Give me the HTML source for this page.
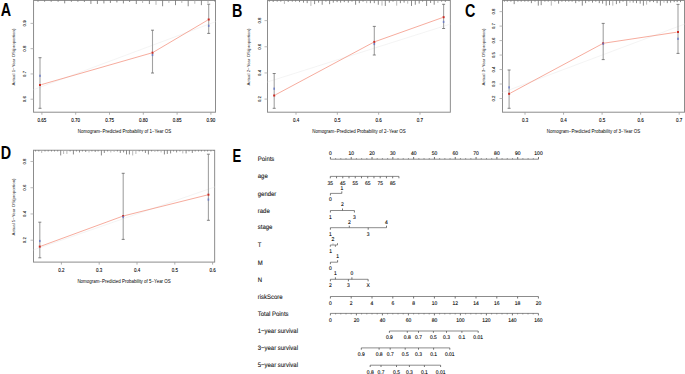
<!DOCTYPE html>
<html><head><meta charset="utf-8"><style>
html,body{margin:0;padding:0;background:#fff;}
svg{display:block;font-family:"Liberation Sans", sans-serif;}
text.nt,text.lab{text-rendering:geometricPrecision;}
text{stroke:none;}
text.nt{stroke:#000;stroke-width:0.1px;}
text.ct{stroke:#000;stroke-width:0.08px;}
text.lab{stroke:#111;stroke-width:0.1px;}
text.L{stroke:none;}
</style></head><body>
<svg width="685" height="374" viewBox="0 0 685 374">
<rect width="685" height="374" fill="#fff"/>
<rect x="33.55" y="0.45" width="181.95" height="111.75" fill="none" stroke="#8c8c8c" stroke-width="1.0"/>
<line x1="41.90" y1="112.20" x2="41.90" y2="114.70" stroke="#999" stroke-width="0.8" />
<text transform="translate(41.90 121.90)" font-size="4.5" text-anchor="middle" fill="#000" class="ct">0.65</text>
<line x1="75.70" y1="112.20" x2="75.70" y2="114.70" stroke="#999" stroke-width="0.8" />
<text transform="translate(75.70 121.90)" font-size="4.5" text-anchor="middle" fill="#000" class="ct">0.70</text>
<line x1="109.50" y1="112.20" x2="109.50" y2="114.70" stroke="#999" stroke-width="0.8" />
<text transform="translate(109.50 121.90)" font-size="4.5" text-anchor="middle" fill="#000" class="ct">0.75</text>
<line x1="143.30" y1="112.20" x2="143.30" y2="114.70" stroke="#999" stroke-width="0.8" />
<text transform="translate(143.30 121.90)" font-size="4.5" text-anchor="middle" fill="#000" class="ct">0.80</text>
<line x1="177.10" y1="112.20" x2="177.10" y2="114.70" stroke="#999" stroke-width="0.8" />
<text transform="translate(177.10 121.90)" font-size="4.5" text-anchor="middle" fill="#000" class="ct">0.85</text>
<line x1="210.90" y1="112.20" x2="210.90" y2="114.70" stroke="#999" stroke-width="0.8" />
<text transform="translate(210.90 121.90)" font-size="4.5" text-anchor="middle" fill="#000" class="ct">0.90</text>
<line x1="30.55" y1="99.21" x2="33.55" y2="99.21" stroke="#aaa" stroke-width="0.8" />
<text transform="translate(26.45 99.21) rotate(-90)" font-size="4.3" text-anchor="middle" fill="#000" class="ct">0.6</text>
<line x1="30.55" y1="73.94" x2="33.55" y2="73.94" stroke="#aaa" stroke-width="0.8" />
<text transform="translate(26.45 73.94) rotate(-90)" font-size="4.3" text-anchor="middle" fill="#000" class="ct">0.7</text>
<line x1="30.55" y1="48.67" x2="33.55" y2="48.67" stroke="#aaa" stroke-width="0.8" />
<text transform="translate(26.45 48.67) rotate(-90)" font-size="4.3" text-anchor="middle" fill="#000" class="ct">0.8</text>
<line x1="30.55" y1="23.40" x2="33.55" y2="23.40" stroke="#aaa" stroke-width="0.8" />
<text transform="translate(26.45 23.40) rotate(-90)" font-size="4.3" text-anchor="middle" fill="#000" class="ct">0.9</text>
<text transform="translate(124.53 133.00)" font-size="4.47" text-anchor="middle" fill="#000">Nomogram−Predicted Probability of 1−Year OS</text>
<text transform="translate(15.11 57.12) rotate(-90)" font-size="4.35" text-anchor="middle" fill="#333" class="yt">Actual 1−Year OS(proportion)</text>
<line x1="33.55" y1="89.70" x2="215.50" y2="21.68" stroke="#ececec" stroke-width="0.6" />
<line x1="38.00" y1="0.45" x2="38.00" y2="1.75" stroke="#6c6c6c" stroke-width="0.8" />
<line x1="44.60" y1="0.45" x2="44.60" y2="1.75" stroke="#6c6c6c" stroke-width="0.8" />
<line x1="51.20" y1="0.45" x2="51.20" y2="1.75" stroke="#6c6c6c" stroke-width="0.8" />
<line x1="58.10" y1="0.45" x2="58.10" y2="1.75" stroke="#6c6c6c" stroke-width="0.8" />
<line x1="64.70" y1="0.45" x2="64.70" y2="3.35" stroke="#6c6c6c" stroke-width="0.8" />
<line x1="71.40" y1="0.45" x2="71.40" y2="1.75" stroke="#6c6c6c" stroke-width="0.8" />
<line x1="77.90" y1="0.45" x2="77.90" y2="1.75" stroke="#6c6c6c" stroke-width="0.8" />
<line x1="84.40" y1="0.45" x2="84.40" y2="1.95" stroke="#6c6c6c" stroke-width="0.8" />
<line x1="90.90" y1="0.45" x2="90.90" y2="3.95" stroke="#6c6c6c" stroke-width="0.8" />
<line x1="97.40" y1="0.45" x2="97.40" y2="3.95" stroke="#6c6c6c" stroke-width="0.8" />
<line x1="103.90" y1="0.45" x2="103.90" y2="3.45" stroke="#6c6c6c" stroke-width="0.8" />
<line x1="110.40" y1="0.45" x2="110.40" y2="2.95" stroke="#6c6c6c" stroke-width="0.8" />
<line x1="116.90" y1="0.45" x2="116.90" y2="2.45" stroke="#6c6c6c" stroke-width="0.8" />
<line x1="123.40" y1="0.45" x2="123.40" y2="3.45" stroke="#6c6c6c" stroke-width="0.8" />
<line x1="129.60" y1="0.45" x2="129.60" y2="1.95" stroke="#6c6c6c" stroke-width="0.8" />
<line x1="136.30" y1="0.45" x2="136.30" y2="4.05" stroke="#6c6c6c" stroke-width="0.8" />
<line x1="142.60" y1="0.45" x2="142.60" y2="2.95" stroke="#a4a4a4" stroke-width="0.8" />
<line x1="149.40" y1="0.45" x2="149.40" y2="4.05" stroke="#6c6c6c" stroke-width="0.8" />
<line x1="156.00" y1="0.45" x2="156.00" y2="4.85" stroke="#a4a4a4" stroke-width="0.8" />
<line x1="162.60" y1="0.45" x2="162.60" y2="6.25" stroke="#6c6c6c" stroke-width="0.8" />
<line x1="168.90" y1="0.45" x2="168.90" y2="2.95" stroke="#a4a4a4" stroke-width="0.8" />
<line x1="175.50" y1="0.45" x2="175.50" y2="5.15" stroke="#6c6c6c" stroke-width="0.8" />
<line x1="181.80" y1="0.45" x2="181.80" y2="2.95" stroke="#a4a4a4" stroke-width="0.8" />
<line x1="188.20" y1="0.45" x2="188.20" y2="6.25" stroke="#6c6c6c" stroke-width="0.8" />
<line x1="194.80" y1="0.45" x2="194.80" y2="3.75" stroke="#a4a4a4" stroke-width="0.8" />
<line x1="201.40" y1="0.45" x2="201.40" y2="5.15" stroke="#6c6c6c" stroke-width="0.8" />
<line x1="208.00" y1="0.45" x2="208.00" y2="2.95" stroke="#a4a4a4" stroke-width="0.8" />
<line x1="214.50" y1="0.45" x2="214.50" y2="1.45" stroke="#6c6c6c" stroke-width="0.8" />
<line x1="41.35" y1="84.61" x2="151.15" y2="53.09" stroke="#f3907e" stroke-width="0.75" />
<line x1="153.71" y1="51.99" x2="207.49" y2="20.21" stroke="#f3907e" stroke-width="0.75" />
<line x1="40.00" y1="57.70" x2="40.00" y2="108.30" stroke="#a2a2a2" stroke-width="1.1" />
<line x1="38.50" y1="57.70" x2="41.50" y2="57.70" stroke="#666" stroke-width="0.8" />
<line x1="38.50" y1="108.30" x2="41.50" y2="108.30" stroke="#666" stroke-width="0.8" />
<rect x="39.00" y="84.00" width="2" height="2" fill="#cc2a22"/>
<rect x="39.20" y="74.70" width="1.6" height="2.2" fill="#6577c6" fill-opacity="0.85"/>
<line x1="152.50" y1="30.20" x2="152.50" y2="73.00" stroke="#a2a2a2" stroke-width="1.1" />
<line x1="151.00" y1="30.20" x2="154.00" y2="30.20" stroke="#666" stroke-width="0.8" />
<line x1="151.00" y1="73.00" x2="154.00" y2="73.00" stroke="#666" stroke-width="0.8" />
<rect x="151.50" y="51.70" width="2" height="2" fill="#cc2a22"/>
<rect x="151.70" y="53.90" width="1.6" height="2.2" fill="#6577c6" fill-opacity="0.85"/>
<line x1="208.70" y1="4.20" x2="208.70" y2="33.40" stroke="#a2a2a2" stroke-width="1.1" />
<line x1="207.20" y1="4.20" x2="210.20" y2="4.20" stroke="#666" stroke-width="0.8" />
<line x1="207.20" y1="33.40" x2="210.20" y2="33.40" stroke="#666" stroke-width="0.8" />
<rect x="207.70" y="18.50" width="2" height="2" fill="#cc2a22"/>
<rect x="207.90" y="24.70" width="1.6" height="2.2" fill="#6577c6" fill-opacity="0.85"/>
<text transform="translate(0.80 16.30) scale(0.82 1)" font-size="17.5" font-weight="bold" fill="#000" class="L">A</text>
<rect x="267.50" y="0.45" width="182.85" height="111.75" fill="none" stroke="#8c8c8c" stroke-width="1.0"/>
<line x1="296.00" y1="112.20" x2="296.00" y2="114.70" stroke="#999" stroke-width="0.8" />
<text transform="translate(296.00 121.90)" font-size="4.5" text-anchor="middle" fill="#000" class="ct">0.4</text>
<line x1="337.33" y1="112.20" x2="337.33" y2="114.70" stroke="#999" stroke-width="0.8" />
<text transform="translate(337.33 121.90)" font-size="4.5" text-anchor="middle" fill="#000" class="ct">0.5</text>
<line x1="378.66" y1="112.20" x2="378.66" y2="114.70" stroke="#999" stroke-width="0.8" />
<text transform="translate(378.66 121.90)" font-size="4.5" text-anchor="middle" fill="#000" class="ct">0.6</text>
<line x1="419.99" y1="112.20" x2="419.99" y2="114.70" stroke="#999" stroke-width="0.8" />
<text transform="translate(419.99 121.90)" font-size="4.5" text-anchor="middle" fill="#000" class="ct">0.7</text>
<line x1="264.50" y1="99.10" x2="267.50" y2="99.10" stroke="#aaa" stroke-width="0.8" />
<text transform="translate(261.15 99.10) rotate(-90)" font-size="4.3" text-anchor="middle" fill="#000" class="ct">0.2</text>
<line x1="264.50" y1="72.94" x2="267.50" y2="72.94" stroke="#aaa" stroke-width="0.8" />
<text transform="translate(261.15 72.94) rotate(-90)" font-size="4.3" text-anchor="middle" fill="#000" class="ct">0.4</text>
<line x1="264.50" y1="46.78" x2="267.50" y2="46.78" stroke="#aaa" stroke-width="0.8" />
<text transform="translate(261.15 46.78) rotate(-90)" font-size="4.3" text-anchor="middle" fill="#000" class="ct">0.6</text>
<line x1="264.50" y1="20.62" x2="267.50" y2="20.62" stroke="#aaa" stroke-width="0.8" />
<text transform="translate(261.15 20.62) rotate(-90)" font-size="4.3" text-anchor="middle" fill="#000" class="ct">0.8</text>
<text transform="translate(358.93 133.00)" font-size="4.47" text-anchor="middle" fill="#000">Nomogram−Predicted Probability of 2−Year OS</text>
<text transform="translate(249.71 57.12) rotate(-90)" font-size="4.35" text-anchor="middle" fill="#333" class="yt">Actual 2−Year OS(proportion)</text>
<line x1="267.50" y1="81.96" x2="450.35" y2="24.09" stroke="#ececec" stroke-width="0.6" />
<line x1="269.30" y1="0.45" x2="269.30" y2="1.65" stroke="#6c6c6c" stroke-width="0.8" />
<line x1="273.20" y1="0.45" x2="273.20" y2="1.95" stroke="#6c6c6c" stroke-width="0.8" />
<line x1="277.20" y1="0.45" x2="277.20" y2="1.65" stroke="#6c6c6c" stroke-width="0.8" />
<line x1="280.80" y1="0.45" x2="280.80" y2="1.65" stroke="#6c6c6c" stroke-width="0.8" />
<line x1="284.40" y1="0.45" x2="284.40" y2="3.95" stroke="#a4a4a4" stroke-width="0.8" />
<line x1="288.20" y1="0.45" x2="288.20" y2="1.95" stroke="#6c6c6c" stroke-width="0.8" />
<line x1="292.30" y1="0.45" x2="292.30" y2="1.65" stroke="#6c6c6c" stroke-width="0.8" />
<line x1="295.60" y1="0.45" x2="295.60" y2="1.65" stroke="#6c6c6c" stroke-width="0.8" />
<line x1="299.50" y1="0.45" x2="299.50" y2="2.15" stroke="#6c6c6c" stroke-width="0.8" />
<line x1="303.50" y1="0.45" x2="303.50" y2="2.65" stroke="#6c6c6c" stroke-width="0.8" />
<line x1="307.20" y1="0.45" x2="307.20" y2="3.15" stroke="#6c6c6c" stroke-width="0.8" />
<line x1="310.90" y1="0.45" x2="310.90" y2="5.95" stroke="#a4a4a4" stroke-width="0.8" />
<line x1="314.60" y1="0.45" x2="314.60" y2="4.15" stroke="#6c6c6c" stroke-width="0.8" />
<line x1="318.60" y1="0.45" x2="318.60" y2="2.65" stroke="#6c6c6c" stroke-width="0.8" />
<line x1="322.20" y1="0.45" x2="322.20" y2="4.75" stroke="#6c6c6c" stroke-width="0.8" />
<line x1="325.90" y1="0.45" x2="325.90" y2="1.65" stroke="#6c6c6c" stroke-width="0.8" />
<line x1="329.60" y1="0.45" x2="329.60" y2="4.15" stroke="#6c6c6c" stroke-width="0.8" />
<line x1="333.30" y1="0.45" x2="333.30" y2="2.65" stroke="#6c6c6c" stroke-width="0.8" />
<line x1="337.10" y1="0.45" x2="337.10" y2="2.15" stroke="#6c6c6c" stroke-width="0.8" />
<line x1="340.60" y1="0.45" x2="340.60" y2="2.65" stroke="#6c6c6c" stroke-width="0.8" />
<line x1="344.30" y1="0.45" x2="344.30" y2="2.15" stroke="#6c6c6c" stroke-width="0.8" />
<line x1="348.30" y1="0.45" x2="348.30" y2="2.65" stroke="#6c6c6c" stroke-width="0.8" />
<line x1="352.00" y1="0.45" x2="352.00" y2="1.65" stroke="#6c6c6c" stroke-width="0.8" />
<line x1="355.60" y1="0.45" x2="355.60" y2="4.75" stroke="#6c6c6c" stroke-width="0.8" />
<line x1="359.30" y1="0.45" x2="359.30" y2="3.15" stroke="#6c6c6c" stroke-width="0.8" />
<line x1="363.00" y1="0.45" x2="363.00" y2="1.65" stroke="#6c6c6c" stroke-width="0.8" />
<line x1="366.70" y1="0.45" x2="366.70" y2="3.15" stroke="#a4a4a4" stroke-width="0.8" />
<line x1="370.40" y1="0.45" x2="370.40" y2="3.15" stroke="#6c6c6c" stroke-width="0.8" />
<line x1="374.30" y1="0.45" x2="374.30" y2="3.15" stroke="#6c6c6c" stroke-width="0.8" />
<line x1="378.30" y1="0.45" x2="378.30" y2="4.75" stroke="#6c6c6c" stroke-width="0.8" />
<line x1="382.00" y1="0.45" x2="382.00" y2="5.65" stroke="#a4a4a4" stroke-width="0.8" />
<line x1="385.30" y1="0.45" x2="385.30" y2="5.95" stroke="#6c6c6c" stroke-width="0.8" />
<line x1="389.30" y1="0.45" x2="389.30" y2="2.65" stroke="#6c6c6c" stroke-width="0.8" />
<line x1="393.00" y1="0.45" x2="393.00" y2="1.65" stroke="#6c6c6c" stroke-width="0.8" />
<line x1="396.70" y1="0.45" x2="396.70" y2="5.65" stroke="#a4a4a4" stroke-width="0.8" />
<line x1="400.40" y1="0.45" x2="400.40" y2="3.15" stroke="#6c6c6c" stroke-width="0.8" />
<line x1="404.10" y1="0.45" x2="404.10" y2="2.65" stroke="#6c6c6c" stroke-width="0.8" />
<line x1="407.70" y1="0.45" x2="407.70" y2="3.65" stroke="#a4a4a4" stroke-width="0.8" />
<line x1="411.50" y1="0.45" x2="411.50" y2="5.95" stroke="#6c6c6c" stroke-width="0.8" />
<line x1="415.30" y1="0.45" x2="415.30" y2="4.75" stroke="#6c6c6c" stroke-width="0.8" />
<line x1="419.20" y1="0.45" x2="419.20" y2="3.55" stroke="#6c6c6c" stroke-width="0.8" />
<line x1="422.60" y1="0.45" x2="422.60" y2="1.65" stroke="#6c6c6c" stroke-width="0.8" />
<line x1="426.60" y1="0.45" x2="426.60" y2="5.95" stroke="#6c6c6c" stroke-width="0.8" />
<line x1="430.60" y1="0.45" x2="430.60" y2="2.95" stroke="#6c6c6c" stroke-width="0.8" />
<line x1="434.20" y1="0.45" x2="434.20" y2="4.75" stroke="#6c6c6c" stroke-width="0.8" />
<line x1="437.90" y1="0.45" x2="437.90" y2="2.95" stroke="#a4a4a4" stroke-width="0.8" />
<line x1="441.60" y1="0.45" x2="441.60" y2="1.65" stroke="#6c6c6c" stroke-width="0.8" />
<line x1="445.30" y1="0.45" x2="445.30" y2="1.95" stroke="#6c6c6c" stroke-width="0.8" />
<line x1="449.00" y1="0.45" x2="449.00" y2="1.05" stroke="#6c6c6c" stroke-width="0.8" />
<line x1="275.43" y1="94.84" x2="373.07" y2="42.56" stroke="#f3907e" stroke-width="0.75" />
<line x1="375.62" y1="41.43" x2="442.28" y2="17.67" stroke="#f3907e" stroke-width="0.75" />
<line x1="274.20" y1="73.50" x2="274.20" y2="108.30" stroke="#a2a2a2" stroke-width="1.1" />
<line x1="272.70" y1="73.50" x2="275.70" y2="73.50" stroke="#666" stroke-width="0.8" />
<line x1="272.70" y1="108.30" x2="275.70" y2="108.30" stroke="#666" stroke-width="0.8" />
<rect x="273.20" y="94.50" width="2" height="2" fill="#cc2a22"/>
<rect x="273.40" y="87.60" width="1.6" height="2.2" fill="#6577c6" fill-opacity="0.85"/>
<line x1="374.30" y1="26.40" x2="374.30" y2="55.00" stroke="#a2a2a2" stroke-width="1.1" />
<line x1="372.80" y1="26.40" x2="375.80" y2="26.40" stroke="#666" stroke-width="0.8" />
<line x1="372.80" y1="55.00" x2="375.80" y2="55.00" stroke="#666" stroke-width="0.8" />
<rect x="373.30" y="40.90" width="2" height="2" fill="#cc2a22"/>
<rect x="373.50" y="42.90" width="1.6" height="2.2" fill="#6577c6" fill-opacity="0.85"/>
<line x1="443.60" y1="4.30" x2="443.60" y2="28.50" stroke="#a2a2a2" stroke-width="1.1" />
<line x1="442.10" y1="4.30" x2="445.10" y2="4.30" stroke="#666" stroke-width="0.8" />
<line x1="442.10" y1="28.50" x2="445.10" y2="28.50" stroke="#666" stroke-width="0.8" />
<rect x="442.60" y="16.20" width="2" height="2" fill="#cc2a22"/>
<rect x="442.80" y="20.80" width="1.6" height="2.2" fill="#6577c6" fill-opacity="0.85"/>
<text transform="translate(232.00 16.50) scale(0.82 1)" font-size="17.5" font-weight="bold" fill="#000" class="L">B</text>
<rect x="502.50" y="0.45" width="182.00" height="111.75" fill="none" stroke="#8c8c8c" stroke-width="1.0"/>
<line x1="525.00" y1="112.20" x2="525.00" y2="114.70" stroke="#999" stroke-width="0.8" />
<text transform="translate(525.00 121.90)" font-size="4.5" text-anchor="middle" fill="#000" class="ct">0.3</text>
<line x1="563.55" y1="112.20" x2="563.55" y2="114.70" stroke="#999" stroke-width="0.8" />
<text transform="translate(563.55 121.90)" font-size="4.5" text-anchor="middle" fill="#000" class="ct">0.4</text>
<line x1="602.10" y1="112.20" x2="602.10" y2="114.70" stroke="#999" stroke-width="0.8" />
<text transform="translate(602.10 121.90)" font-size="4.5" text-anchor="middle" fill="#000" class="ct">0.5</text>
<line x1="640.65" y1="112.20" x2="640.65" y2="114.70" stroke="#999" stroke-width="0.8" />
<text transform="translate(640.65 121.90)" font-size="4.5" text-anchor="middle" fill="#000" class="ct">0.6</text>
<line x1="679.20" y1="112.20" x2="679.20" y2="114.70" stroke="#999" stroke-width="0.8" />
<text transform="translate(679.20 121.90)" font-size="4.5" text-anchor="middle" fill="#000" class="ct">0.7</text>
<line x1="499.50" y1="98.50" x2="502.50" y2="98.50" stroke="#aaa" stroke-width="0.8" />
<text transform="translate(495.35 98.50) rotate(-90)" font-size="4.3" text-anchor="middle" fill="#000" class="ct">0.2</text>
<line x1="499.50" y1="84.02" x2="502.50" y2="84.02" stroke="#aaa" stroke-width="0.8" />
<text transform="translate(495.35 84.02) rotate(-90)" font-size="4.3" text-anchor="middle" fill="#000" class="ct">0.3</text>
<line x1="499.50" y1="69.54" x2="502.50" y2="69.54" stroke="#aaa" stroke-width="0.8" />
<text transform="translate(495.35 69.54) rotate(-90)" font-size="4.3" text-anchor="middle" fill="#000" class="ct">0.4</text>
<line x1="499.50" y1="55.06" x2="502.50" y2="55.06" stroke="#aaa" stroke-width="0.8" />
<text transform="translate(495.35 55.06) rotate(-90)" font-size="4.3" text-anchor="middle" fill="#000" class="ct">0.5</text>
<line x1="499.50" y1="40.58" x2="502.50" y2="40.58" stroke="#aaa" stroke-width="0.8" />
<text transform="translate(495.35 40.58) rotate(-90)" font-size="4.3" text-anchor="middle" fill="#000" class="ct">0.6</text>
<line x1="499.50" y1="26.10" x2="502.50" y2="26.10" stroke="#aaa" stroke-width="0.8" />
<text transform="translate(495.35 26.10) rotate(-90)" font-size="4.3" text-anchor="middle" fill="#000" class="ct">0.7</text>
<line x1="499.50" y1="11.62" x2="502.50" y2="11.62" stroke="#aaa" stroke-width="0.8" />
<text transform="translate(495.35 11.62) rotate(-90)" font-size="4.3" text-anchor="middle" fill="#000" class="ct">0.8</text>
<text transform="translate(593.50 133.00)" font-size="4.47" text-anchor="middle" fill="#000">Nomogram−Predicted Probability of 3−Year OS</text>
<text transform="translate(484.81 57.12) rotate(-90)" font-size="4.35" text-anchor="middle" fill="#333" class="yt">Actual 3−Year OS(proportion)</text>
<line x1="502.50" y1="92.47" x2="684.50" y2="24.11" stroke="#ececec" stroke-width="0.6" />
<line x1="504.40" y1="0.45" x2="504.40" y2="1.65" stroke="#6c6c6c" stroke-width="0.8" />
<line x1="507.30" y1="0.45" x2="507.30" y2="1.65" stroke="#6c6c6c" stroke-width="0.8" />
<line x1="510.90" y1="0.45" x2="510.90" y2="1.65" stroke="#6c6c6c" stroke-width="0.8" />
<line x1="514.20" y1="0.45" x2="514.20" y2="4.15" stroke="#6c6c6c" stroke-width="0.8" />
<line x1="517.90" y1="0.45" x2="517.90" y2="1.65" stroke="#6c6c6c" stroke-width="0.8" />
<line x1="521.20" y1="0.45" x2="521.20" y2="1.65" stroke="#6c6c6c" stroke-width="0.8" />
<line x1="524.80" y1="0.45" x2="524.80" y2="1.65" stroke="#6c6c6c" stroke-width="0.8" />
<line x1="528.10" y1="0.45" x2="528.10" y2="1.65" stroke="#6c6c6c" stroke-width="0.8" />
<line x1="531.40" y1="0.45" x2="531.40" y2="3.15" stroke="#6c6c6c" stroke-width="0.8" />
<line x1="535.00" y1="0.45" x2="535.00" y2="1.65" stroke="#6c6c6c" stroke-width="0.8" />
<line x1="538.30" y1="0.45" x2="538.30" y2="5.65" stroke="#6c6c6c" stroke-width="0.8" />
<line x1="541.20" y1="0.45" x2="541.20" y2="5.15" stroke="#6c6c6c" stroke-width="0.8" />
<line x1="544.90" y1="0.45" x2="544.90" y2="1.65" stroke="#6c6c6c" stroke-width="0.8" />
<line x1="548.20" y1="0.45" x2="548.20" y2="1.65" stroke="#6c6c6c" stroke-width="0.8" />
<line x1="551.30" y1="0.45" x2="551.30" y2="5.65" stroke="#a4a4a4" stroke-width="0.8" />
<line x1="554.90" y1="0.45" x2="554.90" y2="1.65" stroke="#6c6c6c" stroke-width="0.8" />
<line x1="558.60" y1="0.45" x2="558.60" y2="3.65" stroke="#6c6c6c" stroke-width="0.8" />
<line x1="561.90" y1="0.45" x2="561.90" y2="1.65" stroke="#6c6c6c" stroke-width="0.8" />
<line x1="565.50" y1="0.45" x2="565.50" y2="1.65" stroke="#6c6c6c" stroke-width="0.8" />
<line x1="568.80" y1="0.45" x2="568.80" y2="1.65" stroke="#6c6c6c" stroke-width="0.8" />
<line x1="572.10" y1="0.45" x2="572.10" y2="1.65" stroke="#6c6c6c" stroke-width="0.8" />
<line x1="575.70" y1="0.45" x2="575.70" y2="3.15" stroke="#6c6c6c" stroke-width="0.8" />
<line x1="579.00" y1="0.45" x2="579.00" y2="1.65" stroke="#6c6c6c" stroke-width="0.8" />
<line x1="582.30" y1="0.45" x2="582.30" y2="5.65" stroke="#6c6c6c" stroke-width="0.8" />
<line x1="585.60" y1="0.45" x2="585.60" y2="3.15" stroke="#6c6c6c" stroke-width="0.8" />
<line x1="588.90" y1="0.45" x2="588.90" y2="1.65" stroke="#6c6c6c" stroke-width="0.8" />
<line x1="592.50" y1="0.45" x2="592.50" y2="2.65" stroke="#6c6c6c" stroke-width="0.8" />
<line x1="595.80" y1="0.45" x2="595.80" y2="1.65" stroke="#6c6c6c" stroke-width="0.8" />
<line x1="599.30" y1="0.45" x2="599.30" y2="3.15" stroke="#6c6c6c" stroke-width="0.8" />
<line x1="602.60" y1="0.45" x2="602.60" y2="3.65" stroke="#6c6c6c" stroke-width="0.8" />
<line x1="606.20" y1="0.45" x2="606.20" y2="5.65" stroke="#6c6c6c" stroke-width="0.8" />
<line x1="609.50" y1="0.45" x2="609.50" y2="5.15" stroke="#6c6c6c" stroke-width="0.8" />
<line x1="612.80" y1="0.45" x2="612.80" y2="5.65" stroke="#a4a4a4" stroke-width="0.8" />
<line x1="616.40" y1="0.45" x2="616.40" y2="4.15" stroke="#6c6c6c" stroke-width="0.8" />
<line x1="619.70" y1="0.45" x2="619.70" y2="3.15" stroke="#6c6c6c" stroke-width="0.8" />
<line x1="623.00" y1="0.45" x2="623.00" y2="1.65" stroke="#6c6c6c" stroke-width="0.8" />
<line x1="626.70" y1="0.45" x2="626.70" y2="5.95" stroke="#6c6c6c" stroke-width="0.8" />
<line x1="630.00" y1="0.45" x2="630.00" y2="2.65" stroke="#a4a4a4" stroke-width="0.8" />
<line x1="633.20" y1="0.45" x2="633.20" y2="2.65" stroke="#6c6c6c" stroke-width="0.8" />
<line x1="636.50" y1="0.45" x2="636.50" y2="3.15" stroke="#6c6c6c" stroke-width="0.8" />
<line x1="640.20" y1="0.45" x2="640.20" y2="3.65" stroke="#6c6c6c" stroke-width="0.8" />
<line x1="643.40" y1="0.45" x2="643.40" y2="5.65" stroke="#6c6c6c" stroke-width="0.8" />
<line x1="646.60" y1="0.45" x2="646.60" y2="4.65" stroke="#a4a4a4" stroke-width="0.8" />
<line x1="649.90" y1="0.45" x2="649.90" y2="2.15" stroke="#6c6c6c" stroke-width="0.8" />
<line x1="653.50" y1="0.45" x2="653.50" y2="2.15" stroke="#6c6c6c" stroke-width="0.8" />
<line x1="657.10" y1="0.45" x2="657.10" y2="3.15" stroke="#6c6c6c" stroke-width="0.8" />
<line x1="660.40" y1="0.45" x2="660.40" y2="5.65" stroke="#6c6c6c" stroke-width="0.8" />
<line x1="664.00" y1="0.45" x2="664.00" y2="2.65" stroke="#a4a4a4" stroke-width="0.8" />
<line x1="667.30" y1="0.45" x2="667.30" y2="3.15" stroke="#6c6c6c" stroke-width="0.8" />
<line x1="670.60" y1="0.45" x2="670.60" y2="2.65" stroke="#6c6c6c" stroke-width="0.8" />
<line x1="674.20" y1="0.45" x2="674.20" y2="2.15" stroke="#6c6c6c" stroke-width="0.8" />
<line x1="677.20" y1="0.45" x2="677.20" y2="2.15" stroke="#6c6c6c" stroke-width="0.8" />
<line x1="680.50" y1="0.45" x2="680.50" y2="2.15" stroke="#6c6c6c" stroke-width="0.8" />
<line x1="510.33" y1="93.14" x2="601.97" y2="43.96" stroke="#f3907e" stroke-width="0.75" />
<line x1="604.58" y1="43.09" x2="676.62" y2="32.21" stroke="#f3907e" stroke-width="0.75" />
<line x1="509.10" y1="70.00" x2="509.10" y2="108.30" stroke="#a2a2a2" stroke-width="1.1" />
<line x1="507.60" y1="70.00" x2="510.60" y2="70.00" stroke="#666" stroke-width="0.8" />
<line x1="507.60" y1="108.30" x2="510.60" y2="108.30" stroke="#666" stroke-width="0.8" />
<rect x="508.10" y="92.80" width="2" height="2" fill="#cc2a22"/>
<rect x="508.30" y="86.30" width="1.6" height="2.2" fill="#6577c6" fill-opacity="0.85"/>
<line x1="603.20" y1="23.40" x2="603.20" y2="59.60" stroke="#a2a2a2" stroke-width="1.1" />
<line x1="601.70" y1="23.40" x2="604.70" y2="23.40" stroke="#666" stroke-width="0.8" />
<line x1="601.70" y1="59.60" x2="604.70" y2="59.60" stroke="#666" stroke-width="0.8" />
<rect x="602.20" y="42.30" width="2" height="2" fill="#cc2a22"/>
<rect x="602.40" y="42.70" width="1.6" height="2.2" fill="#6577c6" fill-opacity="0.85"/>
<line x1="678.00" y1="4.40" x2="678.00" y2="53.40" stroke="#a2a2a2" stroke-width="1.1" />
<line x1="676.50" y1="4.40" x2="679.50" y2="4.40" stroke="#666" stroke-width="0.8" />
<line x1="676.50" y1="53.40" x2="679.50" y2="53.40" stroke="#666" stroke-width="0.8" />
<rect x="677.00" y="31.00" width="2" height="2" fill="#cc2a22"/>
<rect x="677.20" y="37.70" width="1.6" height="2.2" fill="#6577c6" fill-opacity="0.85"/>
<text transform="translate(465.00 16.80) scale(0.82 1)" font-size="17.5" font-weight="bold" fill="#000" class="L">C</text>
<rect x="33.50" y="150.25" width="181.15" height="111.85" fill="none" stroke="#8c8c8c" stroke-width="1.0"/>
<line x1="61.40" y1="262.10" x2="61.40" y2="264.60" stroke="#999" stroke-width="0.8" />
<text transform="translate(61.40 271.70)" font-size="4.5" text-anchor="middle" fill="#000" class="ct">0.2</text>
<line x1="99.20" y1="262.10" x2="99.20" y2="264.60" stroke="#999" stroke-width="0.8" />
<text transform="translate(99.20 271.70)" font-size="4.5" text-anchor="middle" fill="#000" class="ct">0.3</text>
<line x1="137.00" y1="262.10" x2="137.00" y2="264.60" stroke="#999" stroke-width="0.8" />
<text transform="translate(137.00 271.70)" font-size="4.5" text-anchor="middle" fill="#000" class="ct">0.4</text>
<line x1="174.80" y1="262.10" x2="174.80" y2="264.60" stroke="#999" stroke-width="0.8" />
<text transform="translate(174.80 271.70)" font-size="4.5" text-anchor="middle" fill="#000" class="ct">0.5</text>
<line x1="212.60" y1="262.10" x2="212.60" y2="264.60" stroke="#999" stroke-width="0.8" />
<text transform="translate(212.60 271.70)" font-size="4.5" text-anchor="middle" fill="#000" class="ct">0.6</text>
<line x1="30.50" y1="240.20" x2="33.50" y2="240.20" stroke="#aaa" stroke-width="0.8" />
<text transform="translate(26.45 240.20) rotate(-90)" font-size="4.3" text-anchor="middle" fill="#000" class="ct">0.2</text>
<line x1="30.50" y1="213.96" x2="33.50" y2="213.96" stroke="#aaa" stroke-width="0.8" />
<text transform="translate(26.45 213.96) rotate(-90)" font-size="4.3" text-anchor="middle" fill="#000" class="ct">0.4</text>
<line x1="30.50" y1="187.72" x2="33.50" y2="187.72" stroke="#aaa" stroke-width="0.8" />
<text transform="translate(26.45 187.72) rotate(-90)" font-size="4.3" text-anchor="middle" fill="#000" class="ct">0.6</text>
<line x1="30.50" y1="161.48" x2="33.50" y2="161.48" stroke="#aaa" stroke-width="0.8" />
<text transform="translate(26.45 161.48) rotate(-90)" font-size="4.3" text-anchor="middle" fill="#000" class="ct">0.8</text>
<text transform="translate(124.08 282.80)" font-size="4.47" text-anchor="middle" fill="#000">Nomogram−Predicted Probability of 5−Year OS</text>
<text transform="translate(15.11 206.98) rotate(-90)" font-size="4.35" text-anchor="middle" fill="#333" class="yt">Actual 5−Year OS(proportion)</text>
<line x1="33.50" y1="249.88" x2="214.65" y2="187.01" stroke="#ececec" stroke-width="0.6" />
<line x1="35.50" y1="150.25" x2="35.50" y2="151.45" stroke="#6c6c6c" stroke-width="0.8" />
<line x1="38.80" y1="150.25" x2="38.80" y2="151.45" stroke="#6c6c6c" stroke-width="0.8" />
<line x1="41.70" y1="150.25" x2="41.70" y2="152.95" stroke="#a4a4a4" stroke-width="0.8" />
<line x1="45.00" y1="150.25" x2="45.00" y2="151.45" stroke="#6c6c6c" stroke-width="0.8" />
<line x1="48.20" y1="150.25" x2="48.20" y2="151.45" stroke="#6c6c6c" stroke-width="0.8" />
<line x1="51.50" y1="150.25" x2="51.50" y2="151.45" stroke="#6c6c6c" stroke-width="0.8" />
<line x1="54.50" y1="150.25" x2="54.50" y2="151.45" stroke="#6c6c6c" stroke-width="0.8" />
<line x1="57.70" y1="150.25" x2="57.70" y2="151.45" stroke="#6c6c6c" stroke-width="0.8" />
<line x1="60.70" y1="150.25" x2="60.70" y2="155.45" stroke="#6c6c6c" stroke-width="0.8" />
<line x1="63.60" y1="150.25" x2="63.60" y2="153.95" stroke="#a4a4a4" stroke-width="0.8" />
<line x1="66.90" y1="150.25" x2="66.90" y2="153.95" stroke="#a4a4a4" stroke-width="0.8" />
<line x1="70.10" y1="150.25" x2="70.10" y2="151.45" stroke="#6c6c6c" stroke-width="0.8" />
<line x1="73.40" y1="150.25" x2="73.40" y2="154.45" stroke="#6c6c6c" stroke-width="0.8" />
<line x1="76.40" y1="150.25" x2="76.40" y2="151.45" stroke="#6c6c6c" stroke-width="0.8" />
<line x1="79.50" y1="150.25" x2="79.50" y2="152.45" stroke="#6c6c6c" stroke-width="0.8" />
<line x1="82.40" y1="150.25" x2="82.40" y2="151.45" stroke="#6c6c6c" stroke-width="0.8" />
<line x1="85.70" y1="150.25" x2="85.70" y2="151.95" stroke="#6c6c6c" stroke-width="0.8" />
<line x1="89.00" y1="150.25" x2="89.00" y2="152.45" stroke="#a4a4a4" stroke-width="0.8" />
<line x1="91.90" y1="150.25" x2="91.90" y2="151.45" stroke="#6c6c6c" stroke-width="0.8" />
<line x1="95.20" y1="150.25" x2="95.20" y2="151.95" stroke="#6c6c6c" stroke-width="0.8" />
<line x1="98.10" y1="150.25" x2="98.10" y2="151.45" stroke="#6c6c6c" stroke-width="0.8" />
<line x1="101.40" y1="150.25" x2="101.40" y2="155.45" stroke="#6c6c6c" stroke-width="0.8" />
<line x1="104.30" y1="150.25" x2="104.30" y2="152.95" stroke="#6c6c6c" stroke-width="0.8" />
<line x1="107.60" y1="150.25" x2="107.60" y2="151.45" stroke="#6c6c6c" stroke-width="0.8" />
<line x1="110.80" y1="150.25" x2="110.80" y2="152.45" stroke="#a4a4a4" stroke-width="0.8" />
<line x1="114.10" y1="150.25" x2="114.10" y2="151.95" stroke="#a4a4a4" stroke-width="0.8" />
<line x1="117.40" y1="150.25" x2="117.40" y2="151.45" stroke="#6c6c6c" stroke-width="0.8" />
<line x1="120.30" y1="150.25" x2="120.30" y2="152.95" stroke="#6c6c6c" stroke-width="0.8" />
<line x1="123.60" y1="150.25" x2="123.60" y2="152.45" stroke="#6c6c6c" stroke-width="0.8" />
<line x1="126.50" y1="150.25" x2="126.50" y2="154.45" stroke="#6c6c6c" stroke-width="0.8" />
<line x1="129.40" y1="150.25" x2="129.40" y2="154.45" stroke="#6c6c6c" stroke-width="0.8" />
<line x1="132.70" y1="150.25" x2="132.70" y2="155.45" stroke="#a4a4a4" stroke-width="0.8" />
<line x1="135.90" y1="150.25" x2="135.90" y2="153.95" stroke="#a4a4a4" stroke-width="0.8" />
<line x1="139.20" y1="150.25" x2="139.20" y2="151.45" stroke="#6c6c6c" stroke-width="0.8" />
<line x1="142.50" y1="150.25" x2="142.50" y2="151.45" stroke="#6c6c6c" stroke-width="0.8" />
<line x1="145.40" y1="150.25" x2="145.40" y2="152.95" stroke="#6c6c6c" stroke-width="0.8" />
<line x1="148.40" y1="150.25" x2="148.40" y2="154.45" stroke="#6c6c6c" stroke-width="0.8" />
<line x1="151.60" y1="150.25" x2="151.60" y2="151.45" stroke="#6c6c6c" stroke-width="0.8" />
<line x1="154.90" y1="150.25" x2="154.90" y2="151.95" stroke="#a4a4a4" stroke-width="0.8" />
<line x1="157.80" y1="150.25" x2="157.80" y2="151.45" stroke="#6c6c6c" stroke-width="0.8" />
<line x1="161.10" y1="150.25" x2="161.10" y2="152.45" stroke="#a4a4a4" stroke-width="0.8" />
<line x1="164.40" y1="150.25" x2="164.40" y2="154.45" stroke="#6c6c6c" stroke-width="0.8" />
<line x1="167.30" y1="150.25" x2="167.30" y2="153.95" stroke="#6c6c6c" stroke-width="0.8" />
<line x1="170.60" y1="150.25" x2="170.60" y2="153.45" stroke="#6c6c6c" stroke-width="0.8" />
<line x1="173.60" y1="150.25" x2="173.60" y2="151.45" stroke="#6c6c6c" stroke-width="0.8" />
<line x1="176.60" y1="150.25" x2="176.60" y2="152.45" stroke="#6c6c6c" stroke-width="0.8" />
<line x1="179.90" y1="150.25" x2="179.90" y2="151.45" stroke="#6c6c6c" stroke-width="0.8" />
<line x1="182.80" y1="150.25" x2="182.80" y2="153.45" stroke="#a4a4a4" stroke-width="0.8" />
<line x1="186.10" y1="150.25" x2="186.10" y2="153.45" stroke="#6c6c6c" stroke-width="0.8" />
<line x1="189.00" y1="150.25" x2="189.00" y2="151.45" stroke="#6c6c6c" stroke-width="0.8" />
<line x1="192.30" y1="150.25" x2="192.30" y2="152.95" stroke="#6c6c6c" stroke-width="0.8" />
<line x1="195.20" y1="150.25" x2="195.20" y2="151.45" stroke="#6c6c6c" stroke-width="0.8" />
<line x1="198.50" y1="150.25" x2="198.50" y2="151.45" stroke="#6c6c6c" stroke-width="0.8" />
<line x1="201.40" y1="150.25" x2="201.40" y2="151.45" stroke="#6c6c6c" stroke-width="0.8" />
<line x1="204.70" y1="150.25" x2="204.70" y2="151.45" stroke="#6c6c6c" stroke-width="0.8" />
<line x1="207.60" y1="150.25" x2="207.60" y2="151.45" stroke="#6c6c6c" stroke-width="0.8" />
<line x1="210.90" y1="150.25" x2="210.90" y2="151.45" stroke="#6c6c6c" stroke-width="0.8" />
<line x1="213.80" y1="150.25" x2="213.80" y2="150.95" stroke="#6c6c6c" stroke-width="0.8" />
<line x1="41.11" y1="246.12" x2="121.89" y2="216.48" stroke="#f3907e" stroke-width="0.75" />
<line x1="124.56" y1="215.66" x2="207.04" y2="195.04" stroke="#f3907e" stroke-width="0.75" />
<line x1="39.80" y1="222.20" x2="39.80" y2="257.80" stroke="#a2a2a2" stroke-width="1.1" />
<line x1="38.30" y1="222.20" x2="41.30" y2="222.20" stroke="#666" stroke-width="0.8" />
<line x1="38.30" y1="257.80" x2="41.30" y2="257.80" stroke="#666" stroke-width="0.8" />
<rect x="38.80" y="245.60" width="2" height="2" fill="#cc2a22"/>
<rect x="39.00" y="239.90" width="1.6" height="2.2" fill="#6577c6" fill-opacity="0.85"/>
<line x1="123.20" y1="173.30" x2="123.20" y2="239.40" stroke="#a2a2a2" stroke-width="1.1" />
<line x1="121.70" y1="173.30" x2="124.70" y2="173.30" stroke="#666" stroke-width="0.8" />
<line x1="121.70" y1="239.40" x2="124.70" y2="239.40" stroke="#666" stroke-width="0.8" />
<rect x="122.20" y="215.00" width="2" height="2" fill="#cc2a22"/>
<rect x="122.40" y="215.90" width="1.6" height="2.2" fill="#6577c6" fill-opacity="0.85"/>
<line x1="208.40" y1="154.20" x2="208.40" y2="220.30" stroke="#a2a2a2" stroke-width="1.1" />
<line x1="206.90" y1="154.20" x2="209.90" y2="154.20" stroke="#666" stroke-width="0.8" />
<line x1="206.90" y1="220.30" x2="209.90" y2="220.30" stroke="#666" stroke-width="0.8" />
<rect x="207.40" y="193.70" width="2" height="2" fill="#cc2a22"/>
<rect x="207.60" y="198.50" width="1.6" height="2.2" fill="#6577c6" fill-opacity="0.85"/>
<text transform="translate(0.80 159.40) scale(0.82 1)" font-size="17.5" font-weight="bold" fill="#000" class="L">D</text>
<text transform="translate(232.50 161.50) scale(0.715 1)" font-size="18.3" font-weight="bold" fill="#000" class="L">E</text>
<text transform="translate(257.80 161.10) scale(0.915 1)" font-size="6.5" text-anchor="start" fill="#111" class="lab">Points</text>
<text transform="translate(257.80 177.50) scale(0.915 1)" font-size="6.5" text-anchor="start" fill="#111" class="lab">age</text>
<text transform="translate(257.80 195.50) scale(0.915 1)" font-size="6.5" text-anchor="start" fill="#111" class="lab">gender</text>
<text transform="translate(257.80 213.30) scale(0.915 1)" font-size="6.5" text-anchor="start" fill="#111" class="lab">rade</text>
<text transform="translate(257.80 229.40) scale(0.915 1)" font-size="6.5" text-anchor="start" fill="#111" class="lab">stage</text>
<text transform="translate(257.80 247.30) scale(0.915 1)" font-size="6.5" text-anchor="start" fill="#111" class="lab">T</text>
<text transform="translate(257.80 264.60) scale(0.915 1)" font-size="6.5" text-anchor="start" fill="#111" class="lab">M</text>
<text transform="translate(257.80 282.10) scale(0.915 1)" font-size="6.5" text-anchor="start" fill="#111" class="lab">N</text>
<text transform="translate(257.80 299.20) scale(0.915 1)" font-size="6.5" text-anchor="start" fill="#111" class="lab">riskScore</text>
<text transform="translate(257.80 316.10) scale(0.915 1)" font-size="6.5" text-anchor="start" fill="#111" class="lab">Total Points</text>
<text transform="translate(257.80 333.20) scale(0.915 1)" font-size="6.5" text-anchor="start" fill="#111" class="lab">1−year survival</text>
<text transform="translate(257.80 350.10) scale(0.915 1)" font-size="6.5" text-anchor="start" fill="#111" class="lab">3−year survival</text>
<text transform="translate(257.80 367.00) scale(0.915 1)" font-size="6.5" text-anchor="start" fill="#111" class="lab">5−year survival</text>
<line x1="330.40" y1="159.20" x2="538.50" y2="159.20" stroke="#5a5a5a" stroke-width="0.7" />
<line x1="330.40" y1="159.20" x2="330.40" y2="157.00" stroke="#5a5a5a" stroke-width="0.85" />
<text transform="translate(330.40 154.94) scale(0.92 1)" font-size="5.4" text-anchor="middle" fill="#000" class="nt">0</text>
<line x1="335.60" y1="159.20" x2="335.60" y2="158.20" stroke="#5a5a5a" stroke-width="0.7" />
<line x1="340.80" y1="159.20" x2="340.80" y2="158.20" stroke="#5a5a5a" stroke-width="0.7" />
<line x1="346.01" y1="159.20" x2="346.01" y2="158.20" stroke="#5a5a5a" stroke-width="0.7" />
<line x1="351.21" y1="159.20" x2="351.21" y2="157.00" stroke="#5a5a5a" stroke-width="0.85" />
<text transform="translate(351.21 154.94) scale(0.92 1)" font-size="5.4" text-anchor="middle" fill="#000" class="nt">10</text>
<line x1="356.41" y1="159.20" x2="356.41" y2="158.20" stroke="#5a5a5a" stroke-width="0.7" />
<line x1="361.61" y1="159.20" x2="361.61" y2="158.20" stroke="#5a5a5a" stroke-width="0.7" />
<line x1="366.82" y1="159.20" x2="366.82" y2="158.20" stroke="#5a5a5a" stroke-width="0.7" />
<line x1="372.02" y1="159.20" x2="372.02" y2="157.00" stroke="#5a5a5a" stroke-width="0.85" />
<text transform="translate(372.02 154.94) scale(0.92 1)" font-size="5.4" text-anchor="middle" fill="#000" class="nt">20</text>
<line x1="377.22" y1="159.20" x2="377.22" y2="158.20" stroke="#5a5a5a" stroke-width="0.7" />
<line x1="382.42" y1="159.20" x2="382.42" y2="158.20" stroke="#5a5a5a" stroke-width="0.7" />
<line x1="387.63" y1="159.20" x2="387.63" y2="158.20" stroke="#5a5a5a" stroke-width="0.7" />
<line x1="392.83" y1="159.20" x2="392.83" y2="157.00" stroke="#5a5a5a" stroke-width="0.85" />
<text transform="translate(392.83 154.94) scale(0.92 1)" font-size="5.4" text-anchor="middle" fill="#000" class="nt">30</text>
<line x1="398.03" y1="159.20" x2="398.03" y2="158.20" stroke="#5a5a5a" stroke-width="0.7" />
<line x1="403.23" y1="159.20" x2="403.23" y2="158.20" stroke="#5a5a5a" stroke-width="0.7" />
<line x1="408.44" y1="159.20" x2="408.44" y2="158.20" stroke="#5a5a5a" stroke-width="0.7" />
<line x1="413.64" y1="159.20" x2="413.64" y2="157.00" stroke="#5a5a5a" stroke-width="0.85" />
<text transform="translate(413.64 154.94) scale(0.92 1)" font-size="5.4" text-anchor="middle" fill="#000" class="nt">40</text>
<line x1="418.84" y1="159.20" x2="418.84" y2="158.20" stroke="#5a5a5a" stroke-width="0.7" />
<line x1="424.04" y1="159.20" x2="424.04" y2="158.20" stroke="#5a5a5a" stroke-width="0.7" />
<line x1="429.25" y1="159.20" x2="429.25" y2="158.20" stroke="#5a5a5a" stroke-width="0.7" />
<line x1="434.45" y1="159.20" x2="434.45" y2="157.00" stroke="#5a5a5a" stroke-width="0.85" />
<text transform="translate(434.45 154.94) scale(0.92 1)" font-size="5.4" text-anchor="middle" fill="#000" class="nt">50</text>
<line x1="439.65" y1="159.20" x2="439.65" y2="158.20" stroke="#5a5a5a" stroke-width="0.7" />
<line x1="444.85" y1="159.20" x2="444.85" y2="158.20" stroke="#5a5a5a" stroke-width="0.7" />
<line x1="450.06" y1="159.20" x2="450.06" y2="158.20" stroke="#5a5a5a" stroke-width="0.7" />
<line x1="455.26" y1="159.20" x2="455.26" y2="157.00" stroke="#5a5a5a" stroke-width="0.85" />
<text transform="translate(455.26 154.94) scale(0.92 1)" font-size="5.4" text-anchor="middle" fill="#000" class="nt">60</text>
<line x1="460.46" y1="159.20" x2="460.46" y2="158.20" stroke="#5a5a5a" stroke-width="0.7" />
<line x1="465.66" y1="159.20" x2="465.66" y2="158.20" stroke="#5a5a5a" stroke-width="0.7" />
<line x1="470.87" y1="159.20" x2="470.87" y2="158.20" stroke="#5a5a5a" stroke-width="0.7" />
<line x1="476.07" y1="159.20" x2="476.07" y2="157.00" stroke="#5a5a5a" stroke-width="0.85" />
<text transform="translate(476.07 154.94) scale(0.92 1)" font-size="5.4" text-anchor="middle" fill="#000" class="nt">70</text>
<line x1="481.27" y1="159.20" x2="481.27" y2="158.20" stroke="#5a5a5a" stroke-width="0.7" />
<line x1="486.47" y1="159.20" x2="486.47" y2="158.20" stroke="#5a5a5a" stroke-width="0.7" />
<line x1="491.68" y1="159.20" x2="491.68" y2="158.20" stroke="#5a5a5a" stroke-width="0.7" />
<line x1="496.88" y1="159.20" x2="496.88" y2="157.00" stroke="#5a5a5a" stroke-width="0.85" />
<text transform="translate(496.88 154.94) scale(0.92 1)" font-size="5.4" text-anchor="middle" fill="#000" class="nt">80</text>
<line x1="502.08" y1="159.20" x2="502.08" y2="158.20" stroke="#5a5a5a" stroke-width="0.7" />
<line x1="507.28" y1="159.20" x2="507.28" y2="158.20" stroke="#5a5a5a" stroke-width="0.7" />
<line x1="512.49" y1="159.20" x2="512.49" y2="158.20" stroke="#5a5a5a" stroke-width="0.7" />
<line x1="517.69" y1="159.20" x2="517.69" y2="157.00" stroke="#5a5a5a" stroke-width="0.85" />
<text transform="translate(517.69 154.94) scale(0.92 1)" font-size="5.4" text-anchor="middle" fill="#000" class="nt">90</text>
<line x1="522.89" y1="159.20" x2="522.89" y2="158.20" stroke="#5a5a5a" stroke-width="0.7" />
<line x1="528.10" y1="159.20" x2="528.10" y2="158.20" stroke="#5a5a5a" stroke-width="0.7" />
<line x1="533.30" y1="159.20" x2="533.30" y2="158.20" stroke="#5a5a5a" stroke-width="0.7" />
<line x1="538.50" y1="159.20" x2="538.50" y2="157.00" stroke="#5a5a5a" stroke-width="0.85" />
<text transform="translate(538.50 154.94) scale(0.92 1)" font-size="5.4" text-anchor="middle" fill="#000" class="nt">100</text>
<line x1="330.30" y1="176.40" x2="398.91" y2="176.40" stroke="#5a5a5a" stroke-width="0.7" />
<line x1="330.30" y1="176.40" x2="330.30" y2="178.30" stroke="#5a5a5a" stroke-width="0.85" />
<line x1="336.54" y1="176.40" x2="336.54" y2="178.30" stroke="#5a5a5a" stroke-width="0.85" />
<line x1="342.78" y1="176.40" x2="342.78" y2="178.30" stroke="#5a5a5a" stroke-width="0.85" />
<line x1="349.01" y1="176.40" x2="349.01" y2="178.30" stroke="#5a5a5a" stroke-width="0.85" />
<line x1="355.25" y1="176.40" x2="355.25" y2="178.30" stroke="#5a5a5a" stroke-width="0.85" />
<line x1="361.49" y1="176.40" x2="361.49" y2="178.30" stroke="#5a5a5a" stroke-width="0.85" />
<line x1="367.73" y1="176.40" x2="367.73" y2="178.30" stroke="#5a5a5a" stroke-width="0.85" />
<line x1="373.96" y1="176.40" x2="373.96" y2="178.30" stroke="#5a5a5a" stroke-width="0.85" />
<line x1="380.20" y1="176.40" x2="380.20" y2="178.30" stroke="#5a5a5a" stroke-width="0.85" />
<line x1="386.44" y1="176.40" x2="386.44" y2="178.30" stroke="#5a5a5a" stroke-width="0.85" />
<line x1="392.68" y1="176.40" x2="392.68" y2="178.30" stroke="#5a5a5a" stroke-width="0.85" />
<line x1="398.91" y1="176.40" x2="398.91" y2="178.30" stroke="#5a5a5a" stroke-width="0.85" />
<text transform="translate(330.30 184.54) scale(0.92 1)" font-size="5.4" text-anchor="middle" fill="#000" class="nt">35</text>
<text transform="translate(342.78 184.54) scale(0.92 1)" font-size="5.4" text-anchor="middle" fill="#000" class="nt">45</text>
<text transform="translate(355.25 184.54) scale(0.92 1)" font-size="5.4" text-anchor="middle" fill="#000" class="nt">55</text>
<text transform="translate(367.73 184.54) scale(0.92 1)" font-size="5.4" text-anchor="middle" fill="#000" class="nt">65</text>
<text transform="translate(380.20 184.54) scale(0.92 1)" font-size="5.4" text-anchor="middle" fill="#000" class="nt">75</text>
<text transform="translate(392.68 184.54) scale(0.92 1)" font-size="5.4" text-anchor="middle" fill="#000" class="nt">85</text>
<line x1="330.40" y1="193.40" x2="341.80" y2="193.40" stroke="#5a5a5a" stroke-width="0.7" />
<line x1="330.40" y1="193.40" x2="330.40" y2="195.40" stroke="#5a5a5a" stroke-width="0.85" />
<text transform="translate(330.40 201.44) scale(0.92 1)" font-size="5.4" text-anchor="middle" fill="#000" class="nt">0</text>
<line x1="341.80" y1="193.40" x2="341.80" y2="191.40" stroke="#5a5a5a" stroke-width="0.85" />
<text transform="translate(341.80 189.84) scale(0.92 1)" font-size="5.4" text-anchor="middle" fill="#000" class="nt">1</text>
<line x1="330.40" y1="210.50" x2="354.40" y2="210.50" stroke="#5a5a5a" stroke-width="0.7" />
<line x1="330.40" y1="210.50" x2="330.40" y2="212.50" stroke="#5a5a5a" stroke-width="0.85" />
<text transform="translate(330.40 218.64) scale(0.92 1)" font-size="5.4" text-anchor="middle" fill="#000" class="nt">1</text>
<line x1="342.50" y1="210.50" x2="342.50" y2="208.50" stroke="#5a5a5a" stroke-width="0.85" />
<text transform="translate(342.50 206.24) scale(0.92 1)" font-size="5.4" text-anchor="middle" fill="#000" class="nt">2</text>
<line x1="354.40" y1="210.50" x2="354.40" y2="212.50" stroke="#5a5a5a" stroke-width="0.85" />
<text transform="translate(354.40 218.64) scale(0.92 1)" font-size="5.4" text-anchor="middle" fill="#000" class="nt">3</text>
<line x1="330.40" y1="227.70" x2="386.50" y2="227.70" stroke="#5a5a5a" stroke-width="0.7" />
<line x1="330.40" y1="227.70" x2="330.40" y2="229.70" stroke="#5a5a5a" stroke-width="0.85" />
<text transform="translate(330.40 235.74) scale(0.92 1)" font-size="5.4" text-anchor="middle" fill="#000" class="nt">1</text>
<line x1="349.30" y1="227.70" x2="349.30" y2="225.70" stroke="#5a5a5a" stroke-width="0.85" />
<text transform="translate(349.30 223.54) scale(0.92 1)" font-size="5.4" text-anchor="middle" fill="#000" class="nt">2</text>
<line x1="368.20" y1="227.70" x2="368.20" y2="229.70" stroke="#5a5a5a" stroke-width="0.85" />
<text transform="translate(368.20 235.74) scale(0.92 1)" font-size="5.4" text-anchor="middle" fill="#000" class="nt">3</text>
<line x1="386.50" y1="227.70" x2="386.50" y2="225.70" stroke="#5a5a5a" stroke-width="0.85" />
<text transform="translate(386.50 223.54) scale(0.92 1)" font-size="5.4" text-anchor="middle" fill="#000" class="nt">4</text>
<line x1="330.30" y1="245.00" x2="337.50" y2="245.00" stroke="#5a5a5a" stroke-width="0.7" />
<line x1="330.30" y1="245.00" x2="330.30" y2="246.90" stroke="#5a5a5a" stroke-width="0.7" />
<line x1="335.40" y1="245.00" x2="335.40" y2="246.90" stroke="#5a5a5a" stroke-width="0.7" />
<line x1="333.00" y1="245.00" x2="333.00" y2="243.40" stroke="#999" stroke-width="0.7" />
<line x1="337.50" y1="245.00" x2="337.50" y2="243.10" stroke="#5a5a5a" stroke-width="0.7" />
<text transform="translate(330.60 252.54) scale(0.92 1)" font-size="5.4" text-anchor="middle" fill="#000" class="nt">1</text>
<text transform="translate(333.00 241.12) scale(0.92 1)" font-size="5.6000000000000005" text-anchor="middle" fill="#000" class="nt">2</text>
<line x1="330.40" y1="262.20" x2="337.60" y2="262.20" stroke="#5a5a5a" stroke-width="0.7" />
<line x1="330.40" y1="262.20" x2="330.40" y2="264.20" stroke="#5a5a5a" stroke-width="0.85" />
<text transform="translate(330.40 269.94) scale(0.92 1)" font-size="5.4" text-anchor="middle" fill="#000" class="nt">0</text>
<line x1="337.60" y1="262.20" x2="337.60" y2="260.20" stroke="#5a5a5a" stroke-width="0.85" />
<text transform="translate(337.60 258.34) scale(0.92 1)" font-size="5.4" text-anchor="middle" fill="#000" class="nt">1</text>
<line x1="330.40" y1="279.30" x2="368.10" y2="279.30" stroke="#5a5a5a" stroke-width="0.7" />
<line x1="330.40" y1="279.30" x2="330.40" y2="281.30" stroke="#5a5a5a" stroke-width="0.85" />
<text transform="translate(330.40 287.44) scale(0.92 1)" font-size="5.4" text-anchor="middle" fill="#000" class="nt">2</text>
<line x1="335.40" y1="279.30" x2="335.40" y2="277.30" stroke="#5a5a5a" stroke-width="0.85" />
<text transform="translate(335.40 275.04) scale(0.92 1)" font-size="5.4" text-anchor="middle" fill="#000" class="nt">1</text>
<line x1="348.40" y1="279.30" x2="348.40" y2="281.30" stroke="#5a5a5a" stroke-width="0.85" />
<text transform="translate(348.40 287.44) scale(0.92 1)" font-size="5.4" text-anchor="middle" fill="#000" class="nt">3</text>
<line x1="351.90" y1="279.30" x2="351.90" y2="277.30" stroke="#5a5a5a" stroke-width="0.85" />
<text transform="translate(351.90 275.04) scale(0.92 1)" font-size="5.4" text-anchor="middle" fill="#000" class="nt">0</text>
<line x1="368.10" y1="279.30" x2="368.10" y2="281.30" stroke="#5a5a5a" stroke-width="0.85" />
<text transform="translate(368.10 287.44) scale(0.92 1)" font-size="5.4" text-anchor="middle" fill="#000" class="nt">X</text>
<line x1="330.40" y1="296.50" x2="538.40" y2="296.50" stroke="#5a5a5a" stroke-width="0.7" />
<line x1="330.40" y1="296.50" x2="330.40" y2="298.50" stroke="#5a5a5a" stroke-width="0.85" />
<text transform="translate(330.40 304.84) scale(0.92 1)" font-size="5.4" text-anchor="middle" fill="#000" class="nt">0</text>
<line x1="351.20" y1="296.50" x2="351.20" y2="298.50" stroke="#5a5a5a" stroke-width="0.85" />
<text transform="translate(351.20 304.84) scale(0.92 1)" font-size="5.4" text-anchor="middle" fill="#000" class="nt">2</text>
<line x1="372.00" y1="296.50" x2="372.00" y2="298.50" stroke="#5a5a5a" stroke-width="0.85" />
<text transform="translate(372.00 304.84) scale(0.92 1)" font-size="5.4" text-anchor="middle" fill="#000" class="nt">4</text>
<line x1="392.80" y1="296.50" x2="392.80" y2="298.50" stroke="#5a5a5a" stroke-width="0.85" />
<text transform="translate(392.80 304.84) scale(0.92 1)" font-size="5.4" text-anchor="middle" fill="#000" class="nt">6</text>
<line x1="413.60" y1="296.50" x2="413.60" y2="298.50" stroke="#5a5a5a" stroke-width="0.85" />
<text transform="translate(413.60 304.84) scale(0.92 1)" font-size="5.4" text-anchor="middle" fill="#000" class="nt">8</text>
<line x1="434.40" y1="296.50" x2="434.40" y2="298.50" stroke="#5a5a5a" stroke-width="0.85" />
<text transform="translate(434.40 304.84) scale(0.92 1)" font-size="5.4" text-anchor="middle" fill="#000" class="nt">10</text>
<line x1="455.20" y1="296.50" x2="455.20" y2="298.50" stroke="#5a5a5a" stroke-width="0.85" />
<text transform="translate(455.20 304.84) scale(0.92 1)" font-size="5.4" text-anchor="middle" fill="#000" class="nt">12</text>
<line x1="476.00" y1="296.50" x2="476.00" y2="298.50" stroke="#5a5a5a" stroke-width="0.85" />
<text transform="translate(476.00 304.84) scale(0.92 1)" font-size="5.4" text-anchor="middle" fill="#000" class="nt">14</text>
<line x1="496.80" y1="296.50" x2="496.80" y2="298.50" stroke="#5a5a5a" stroke-width="0.85" />
<text transform="translate(496.80 304.84) scale(0.92 1)" font-size="5.4" text-anchor="middle" fill="#000" class="nt">16</text>
<line x1="517.60" y1="296.50" x2="517.60" y2="298.50" stroke="#5a5a5a" stroke-width="0.85" />
<text transform="translate(517.60 304.84) scale(0.92 1)" font-size="5.4" text-anchor="middle" fill="#000" class="nt">18</text>
<line x1="538.40" y1="296.50" x2="538.40" y2="298.50" stroke="#5a5a5a" stroke-width="0.85" />
<text transform="translate(538.40 304.84) scale(0.92 1)" font-size="5.4" text-anchor="middle" fill="#000" class="nt">20</text>
<line x1="330.40" y1="313.40" x2="538.40" y2="313.40" stroke="#5a5a5a" stroke-width="0.7" />
<line x1="330.40" y1="313.40" x2="330.40" y2="315.40" stroke="#5a5a5a" stroke-width="0.85" />
<text transform="translate(330.40 321.94) scale(0.92 1)" font-size="5.4" text-anchor="middle" fill="#000" class="nt">0</text>
<line x1="335.60" y1="313.40" x2="335.60" y2="314.40" stroke="#5a5a5a" stroke-width="0.7" />
<line x1="340.80" y1="313.40" x2="340.80" y2="314.40" stroke="#5a5a5a" stroke-width="0.7" />
<line x1="346.00" y1="313.40" x2="346.00" y2="314.40" stroke="#5a5a5a" stroke-width="0.7" />
<line x1="351.20" y1="313.40" x2="351.20" y2="314.40" stroke="#5a5a5a" stroke-width="0.7" />
<line x1="356.40" y1="313.40" x2="356.40" y2="315.40" stroke="#5a5a5a" stroke-width="0.85" />
<text transform="translate(356.40 321.94) scale(0.92 1)" font-size="5.4" text-anchor="middle" fill="#000" class="nt">20</text>
<line x1="361.60" y1="313.40" x2="361.60" y2="314.40" stroke="#5a5a5a" stroke-width="0.7" />
<line x1="366.80" y1="313.40" x2="366.80" y2="314.40" stroke="#5a5a5a" stroke-width="0.7" />
<line x1="372.00" y1="313.40" x2="372.00" y2="314.40" stroke="#5a5a5a" stroke-width="0.7" />
<line x1="377.20" y1="313.40" x2="377.20" y2="314.40" stroke="#5a5a5a" stroke-width="0.7" />
<line x1="382.40" y1="313.40" x2="382.40" y2="315.40" stroke="#5a5a5a" stroke-width="0.85" />
<text transform="translate(382.40 321.94) scale(0.92 1)" font-size="5.4" text-anchor="middle" fill="#000" class="nt">40</text>
<line x1="387.60" y1="313.40" x2="387.60" y2="314.40" stroke="#5a5a5a" stroke-width="0.7" />
<line x1="392.80" y1="313.40" x2="392.80" y2="314.40" stroke="#5a5a5a" stroke-width="0.7" />
<line x1="398.00" y1="313.40" x2="398.00" y2="314.40" stroke="#5a5a5a" stroke-width="0.7" />
<line x1="403.20" y1="313.40" x2="403.20" y2="314.40" stroke="#5a5a5a" stroke-width="0.7" />
<line x1="408.40" y1="313.40" x2="408.40" y2="315.40" stroke="#5a5a5a" stroke-width="0.85" />
<text transform="translate(408.40 321.94) scale(0.92 1)" font-size="5.4" text-anchor="middle" fill="#000" class="nt">60</text>
<line x1="413.60" y1="313.40" x2="413.60" y2="314.40" stroke="#5a5a5a" stroke-width="0.7" />
<line x1="418.80" y1="313.40" x2="418.80" y2="314.40" stroke="#5a5a5a" stroke-width="0.7" />
<line x1="424.00" y1="313.40" x2="424.00" y2="314.40" stroke="#5a5a5a" stroke-width="0.7" />
<line x1="429.20" y1="313.40" x2="429.20" y2="314.40" stroke="#5a5a5a" stroke-width="0.7" />
<line x1="434.40" y1="313.40" x2="434.40" y2="315.40" stroke="#5a5a5a" stroke-width="0.85" />
<text transform="translate(434.40 321.94) scale(0.92 1)" font-size="5.4" text-anchor="middle" fill="#000" class="nt">80</text>
<line x1="439.60" y1="313.40" x2="439.60" y2="314.40" stroke="#5a5a5a" stroke-width="0.7" />
<line x1="444.80" y1="313.40" x2="444.80" y2="314.40" stroke="#5a5a5a" stroke-width="0.7" />
<line x1="450.00" y1="313.40" x2="450.00" y2="314.40" stroke="#5a5a5a" stroke-width="0.7" />
<line x1="455.20" y1="313.40" x2="455.20" y2="314.40" stroke="#5a5a5a" stroke-width="0.7" />
<line x1="460.40" y1="313.40" x2="460.40" y2="315.40" stroke="#5a5a5a" stroke-width="0.85" />
<text transform="translate(460.40 321.94) scale(0.92 1)" font-size="5.4" text-anchor="middle" fill="#000" class="nt">100</text>
<line x1="465.60" y1="313.40" x2="465.60" y2="314.40" stroke="#5a5a5a" stroke-width="0.7" />
<line x1="470.80" y1="313.40" x2="470.80" y2="314.40" stroke="#5a5a5a" stroke-width="0.7" />
<line x1="476.00" y1="313.40" x2="476.00" y2="314.40" stroke="#5a5a5a" stroke-width="0.7" />
<line x1="481.20" y1="313.40" x2="481.20" y2="314.40" stroke="#5a5a5a" stroke-width="0.7" />
<line x1="486.40" y1="313.40" x2="486.40" y2="315.40" stroke="#5a5a5a" stroke-width="0.85" />
<text transform="translate(486.40 321.94) scale(0.92 1)" font-size="5.4" text-anchor="middle" fill="#000" class="nt">120</text>
<line x1="491.60" y1="313.40" x2="491.60" y2="314.40" stroke="#5a5a5a" stroke-width="0.7" />
<line x1="496.80" y1="313.40" x2="496.80" y2="314.40" stroke="#5a5a5a" stroke-width="0.7" />
<line x1="502.00" y1="313.40" x2="502.00" y2="314.40" stroke="#5a5a5a" stroke-width="0.7" />
<line x1="507.20" y1="313.40" x2="507.20" y2="314.40" stroke="#5a5a5a" stroke-width="0.7" />
<line x1="512.40" y1="313.40" x2="512.40" y2="315.40" stroke="#5a5a5a" stroke-width="0.85" />
<text transform="translate(512.40 321.94) scale(0.92 1)" font-size="5.4" text-anchor="middle" fill="#000" class="nt">140</text>
<line x1="517.60" y1="313.40" x2="517.60" y2="314.40" stroke="#5a5a5a" stroke-width="0.7" />
<line x1="522.80" y1="313.40" x2="522.80" y2="314.40" stroke="#5a5a5a" stroke-width="0.7" />
<line x1="528.00" y1="313.40" x2="528.00" y2="314.40" stroke="#5a5a5a" stroke-width="0.7" />
<line x1="533.20" y1="313.40" x2="533.20" y2="314.40" stroke="#5a5a5a" stroke-width="0.7" />
<line x1="538.40" y1="313.40" x2="538.40" y2="315.40" stroke="#5a5a5a" stroke-width="0.85" />
<text transform="translate(538.40 321.94) scale(0.92 1)" font-size="5.4" text-anchor="middle" fill="#000" class="nt">160</text>
<line x1="389.40" y1="331.00" x2="478.20" y2="331.00" stroke="#5a5a5a" stroke-width="0.7" />
<line x1="389.40" y1="331.00" x2="389.40" y2="332.80" stroke="#5a5a5a" stroke-width="0.85" />
<text transform="translate(389.40 339.14) scale(0.92 1)" font-size="5.4" text-anchor="middle" fill="#000" class="nt">0.9</text>
<line x1="407.30" y1="331.00" x2="407.30" y2="332.80" stroke="#5a5a5a" stroke-width="0.85" />
<text transform="translate(407.30 339.14) scale(0.92 1)" font-size="5.4" text-anchor="middle" fill="#000" class="nt">0.8</text>
<line x1="418.50" y1="331.00" x2="418.50" y2="332.80" stroke="#5a5a5a" stroke-width="0.85" />
<text transform="translate(418.50 339.14) scale(0.92 1)" font-size="5.4" text-anchor="middle" fill="#000" class="nt">0.7</text>
<line x1="433.40" y1="331.00" x2="433.40" y2="332.80" stroke="#5a5a5a" stroke-width="0.85" />
<text transform="translate(433.40 339.14) scale(0.92 1)" font-size="5.4" text-anchor="middle" fill="#000" class="nt">0.5</text>
<line x1="446.50" y1="331.00" x2="446.50" y2="332.80" stroke="#5a5a5a" stroke-width="0.85" />
<text transform="translate(446.50 339.14) scale(0.92 1)" font-size="5.4" text-anchor="middle" fill="#000" class="nt">0.3</text>
<line x1="461.90" y1="331.00" x2="461.90" y2="332.80" stroke="#5a5a5a" stroke-width="0.85" />
<text transform="translate(461.90 339.14) scale(0.92 1)" font-size="5.4" text-anchor="middle" fill="#000" class="nt">0.1</text>
<line x1="478.20" y1="331.00" x2="478.20" y2="332.80" stroke="#5a5a5a" stroke-width="0.85" />
<text transform="translate(478.20 339.14) scale(0.92 1)" font-size="5.4" text-anchor="middle" fill="#000" class="nt">0.01</text>
<line x1="361.30" y1="347.90" x2="449.80" y2="347.90" stroke="#5a5a5a" stroke-width="0.7" />
<line x1="361.30" y1="347.90" x2="361.30" y2="349.70" stroke="#5a5a5a" stroke-width="0.85" />
<text transform="translate(361.30 355.94) scale(0.92 1)" font-size="5.4" text-anchor="middle" fill="#000" class="nt">0.9</text>
<line x1="379.10" y1="347.90" x2="379.10" y2="349.70" stroke="#5a5a5a" stroke-width="0.85" />
<text transform="translate(379.10 355.94) scale(0.92 1)" font-size="5.4" text-anchor="middle" fill="#000" class="nt">0.8</text>
<line x1="390.20" y1="347.90" x2="390.20" y2="349.70" stroke="#5a5a5a" stroke-width="0.85" />
<text transform="translate(390.20 355.94) scale(0.92 1)" font-size="5.4" text-anchor="middle" fill="#000" class="nt">0.7</text>
<line x1="405.20" y1="347.90" x2="405.20" y2="349.70" stroke="#5a5a5a" stroke-width="0.85" />
<text transform="translate(405.20 355.94) scale(0.92 1)" font-size="5.4" text-anchor="middle" fill="#000" class="nt">0.5</text>
<line x1="418.50" y1="347.90" x2="418.50" y2="349.70" stroke="#5a5a5a" stroke-width="0.85" />
<text transform="translate(418.50 355.94) scale(0.92 1)" font-size="5.4" text-anchor="middle" fill="#000" class="nt">0.3</text>
<line x1="433.60" y1="347.90" x2="433.60" y2="349.70" stroke="#5a5a5a" stroke-width="0.85" />
<text transform="translate(433.60 355.94) scale(0.92 1)" font-size="5.4" text-anchor="middle" fill="#000" class="nt">0.1</text>
<line x1="449.80" y1="347.90" x2="449.80" y2="349.70" stroke="#5a5a5a" stroke-width="0.85" />
<text transform="translate(449.80 355.94) scale(0.92 1)" font-size="5.4" text-anchor="middle" fill="#000" class="nt">0.01</text>
<line x1="370.20" y1="365.20" x2="440.60" y2="365.20" stroke="#5a5a5a" stroke-width="0.7" />
<line x1="370.20" y1="365.20" x2="370.20" y2="367.00" stroke="#5a5a5a" stroke-width="0.85" />
<text transform="translate(370.20 373.54) scale(0.92 1)" font-size="5.4" text-anchor="middle" fill="#000" class="nt">0.8</text>
<line x1="381.00" y1="365.20" x2="381.00" y2="367.00" stroke="#5a5a5a" stroke-width="0.85" />
<text transform="translate(381.00 373.54) scale(0.92 1)" font-size="5.4" text-anchor="middle" fill="#000" class="nt">0.7</text>
<line x1="396.50" y1="365.20" x2="396.50" y2="367.00" stroke="#5a5a5a" stroke-width="0.85" />
<text transform="translate(396.50 373.54) scale(0.92 1)" font-size="5.4" text-anchor="middle" fill="#000" class="nt">0.5</text>
<line x1="409.40" y1="365.20" x2="409.40" y2="367.00" stroke="#5a5a5a" stroke-width="0.85" />
<text transform="translate(409.40 373.54) scale(0.92 1)" font-size="5.4" text-anchor="middle" fill="#000" class="nt">0.3</text>
<line x1="424.40" y1="365.20" x2="424.40" y2="367.00" stroke="#5a5a5a" stroke-width="0.85" />
<text transform="translate(424.40 373.54) scale(0.92 1)" font-size="5.4" text-anchor="middle" fill="#000" class="nt">0.1</text>
<line x1="440.60" y1="365.20" x2="440.60" y2="367.00" stroke="#5a5a5a" stroke-width="0.85" />
<text transform="translate(440.60 373.54) scale(0.92 1)" font-size="5.4" text-anchor="middle" fill="#000" class="nt">0.01</text>
</svg>
</body></html>
